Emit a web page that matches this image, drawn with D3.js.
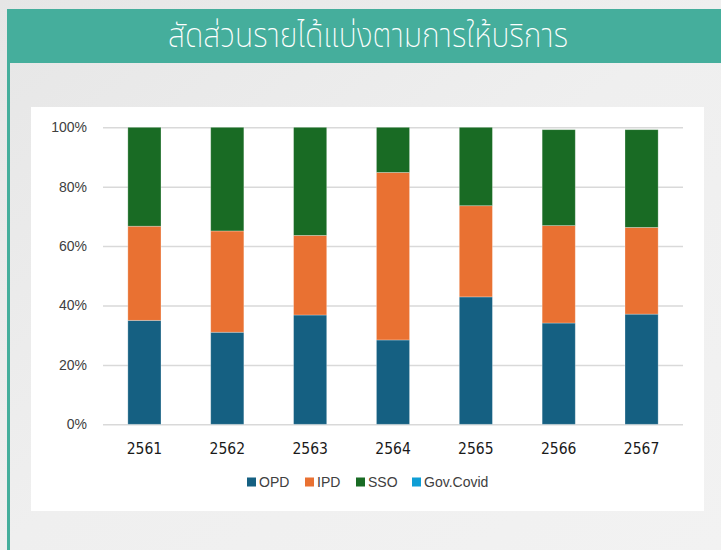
<!DOCTYPE html>
<html>
<head>
<meta charset="utf-8">
<script src="https://cdn.jsdelivr.net/npm/d3@7"></script>
<style>
  body { margin: 0; background: #ececec; }
  svg { display: block; }
</style>
</head>
<body>
<div id="chart"></div>
<script>
// data (percent of revenue by service type)
const years = ["2561", "2562", "2563", "2564", "2565", "2566", "2567"];
const seriesNames = ["OPD", "IPD", "SSO", "Gov.Covid"];
const opd = [35.0, 31.0, 36.8, 28.4, 42.9, 34.1, 37.1];
const ipd = [31.7, 34.1, 26.8, 56.4, 30.7, 32.8, 29.2];
const sso = [33.3, 34.9, 36.4, 15.2, 26.4, 32.3, 32.9];
const govCovid = [0, 0, 0, 0, 0, 0, 0];
const yTicks = [0, 20, 40, 60, 80, 100];
const colors = ["#156082", "#e97132", "#196b24", "#0f9ed5"];

const W = 721, H = 550;

const svg = d3.select("#chart")
  .append("svg")
  .attr("width", W)
  .attr("height", H);

// background
const bg = svg.append("defs").append("linearGradient")
  .attr("id", "bg").attr("x1", 0).attr("y1", 0).attr("x2", 1).attr("y2", 1);
bg.append("stop").attr("offset", "0%").attr("stop-color", "#e6e6e6");
bg.append("stop").attr("offset", "50%").attr("stop-color", "#efefef");
bg.append("stop").attr("offset", "100%").attr("stop-color", "#f2f2f2");
svg.append("rect").attr("width", W).attr("height", H).attr("fill", "url(#bg)");

// left teal rule + title banner
svg.append("rect").attr("x", 7).attr("y", 9).attr("width", 3).attr("height", H - 9).attr("fill", "#45ae9c");
svg.append("rect").attr("x", 7).attr("y", 9).attr("width", W - 7).attr("height", 54).attr("fill", "#45ae9c");
svg.append("text")
  .attr("transform", "translate(368,47) scale(1.04,1.15)")
  .attr("text-anchor", "middle")
  .style("font-family", "'Noto Sans Thai', 'Noto Sans Thai Looped', 'Noto Sans', sans-serif")
  .style("font-weight", 200)
  .style("font-size", "29px")
  .style("fill", "#ffffff")
  .text("สัดส่วนรายได้แบ่งตามการให้บริการ");

// white chart panel
svg.append("rect").attr("x", 31).attr("y", 107).attr("width", 673).attr("height", 404).attr("fill", "#ffffff");

const x = d3.scaleBand()
  .domain(years)
  .range([103, 683])
  .paddingInner(0.6)
  .paddingOuter(0.3);

const y = d3.scaleLinear()
  .domain([0, 100])
  .range([424.3, 127.3]);

// y axis + gridlines
const yAxis = svg.append("g")
  .attr("transform", "translate(103,0)")
  .call(d3.axisLeft(y)
    .tickValues(yTicks)
    .tickSize(-580)
    .tickPadding(16)
    .tickFormat(d => d + "%"));
yAxis.select(".domain").remove();
yAxis.selectAll("line").attr("stroke", "#d9d9d9").attr("stroke-width", 1.5);
yAxis.selectAll("text")
  .style("font-family", "'Liberation Sans', Arial, sans-serif")
  .style("font-size", "14px")
  .style("fill", "#404040");

// stacked bars
const rows = years.map((yr, i) => ({
  year: yr, "OPD": opd[i], "IPD": ipd[i], "SSO": sso[i], "Gov.Covid": govCovid[i]
}));
const stacked = d3.stack().keys(seriesNames)(rows);

svg.append("g")
  .selectAll("g")
  .data(stacked)
  .join("g")
    .attr("fill", (d, i) => colors[i])
  .selectAll("rect")
  .data(d => d.filter(p => p[1] - p[0] > 0))
  .join("rect")
    .attr("x", d => x(d.data.year))
    .attr("width", x.bandwidth())
    .attr("y", d => y(d[1]))
    .attr("height", d => y(d[0]) - y(d[1]))
    .attr("stroke", "#ffffff")
    .attr("stroke-opacity", 0.35)
    .attr("stroke-width", 0.8);

// x axis labels
const xAxis = svg.append("g")
  .attr("transform", "translate(0,424.3)")
  .call(d3.axisBottom(x).tickSize(0).tickPadding(19));
xAxis.select(".domain").remove();
xAxis.selectAll("text")
  .style("font-family", "'DejaVu Sans Condensed', 'DejaVu Sans', sans-serif")
  .style("font-size", "15.5px")
  .style("fill", "#1a1a1a");

// legend
const legendX = [247, 305, 356, 412];
const legend = svg.append("g")
  .selectAll("g")
  .data(seriesNames)
  .join("g")
    .attr("transform", (d, i) => `translate(${legendX[i]},477.5)`);
legend.append("rect")
  .attr("width", 9).attr("height", 9)
  .attr("fill", (d, i) => colors[i]);
legend.append("text")
  .attr("x", 12)
  .attr("y", 5)
  .attr("dy", "0.35em")
  .style("font-family", "'Liberation Sans', Arial, sans-serif")
  .style("font-size", "14px")
  .style("fill", "#404040")
  .text(d => d);
</script>
</body>
</html>
